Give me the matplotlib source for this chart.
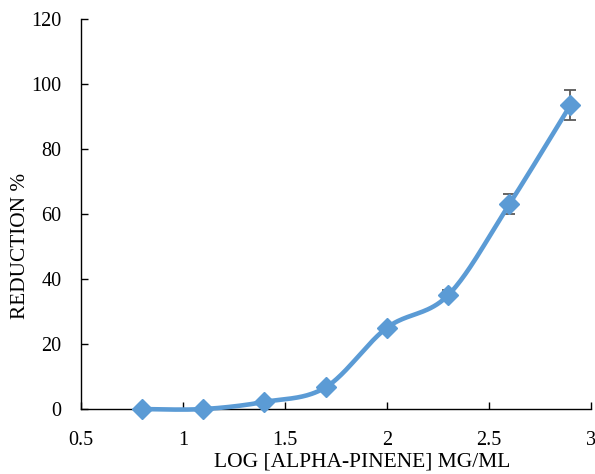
import matplotlib
matplotlib.use("Agg")
import matplotlib.pyplot as plt
import numpy as np

log_conc = [0.8, 1.1, 1.4, 1.7, 2.0, 2.3, 2.6, 2.9]
reduction = [0.0, 0.0, 2.2, 6.7, 25.0, 35.0, 63.0, 93.5]
err = [0.0, 0.0, 0.3, 0.5, 0.6, 1.6, 3.1, 4.6]

BLUE = "#5B9BD5"
plt.rcParams["font.family"] = ["Liberation Serif", "DejaVu Serif"]

fig = plt.figure(figsize=(5.95, 4.74), dpi=100)
ax = fig.add_axes([0.136, 0.137, 0.857, 0.823])
ax.set_xlim(0.5, 3)
ax.set_ylim(0, 120)


def smooth(xs, ys, n=40):
    # Bezier smoothing through every point (Catmull-Rom style), done in axes units
    px = (np.array(xs) - 0.5) / 2.5 * 5.1
    py = np.array(ys) / 120 * 3.9
    pts = np.column_stack([px, py])
    ext = np.vstack([pts[0], pts, pts[-1]])
    out = []
    t = np.linspace(0, 1, n)[:, None]
    for i in range(len(pts) - 1):
        p0, p1, p2, p3 = ext[i], ext[i + 1], ext[i + 2], ext[i + 3]
        c1 = p1 + (p2 - p0) / 6
        c2 = p2 - (p3 - p1) / 6
        seg = ((1 - t) ** 3) * p1 + 3 * ((1 - t) ** 2) * t * c1 + 3 * (1 - t) * t ** 2 * c2 + t ** 3 * p2
        out.append(seg)
    out = np.vstack(out)
    return out[:, 0] / 5.1 * 2.5 + 0.5, out[:, 1] / 3.9 * 120


sx, sy = smooth(log_conc, reduction)
ax.errorbar(log_conc, reduction, yerr=err, fmt="none", ecolor="#595959",
            elinewidth=1.3, capsize=4.5, capthick=1.3, zorder=2)
ax.plot(sx, sy, color=BLUE, lw=3.3, zorder=3, clip_on=False)
ax.plot(log_conc, reduction, linestyle="none", marker="D", ms=10.5,
        color=BLUE, zorder=4, clip_on=False)

ax.set_xticks([0.5, 1, 1.5, 2, 2.5, 3])
ax.set_xticklabels(["0.5", "1", "1.5", "2", "2.5", "3"])
ax.set_yticks(range(0, 121, 20))
ax.tick_params(direction="in", length=5, width=1, labelsize=14.5, colors="black")
ax.tick_params(axis="x", pad=16)
ax.tick_params(axis="y", pad=14)
for side in ("top", "right"):
    ax.spines[side].set_visible(False)
for side in ("left", "bottom"):
    ax.spines[side].set_color("black")
    ax.spines[side].set_linewidth(1)

# axis titles sit off-centre, as in the spreadsheet layout
ax.set_xlabel("LOG [ALPHA-PINENE] MG/ML", fontsize=15.5, va="center", ha="center")
ax.xaxis.set_label_coords(0.552, -0.136)
ax.set_ylabel("REDUCTION %", fontsize=15.3, va="center", ha="center")
ax.yaxis.set_label_coords(-0.118, 0.417)

fig.savefig("out.png", dpi=100)
